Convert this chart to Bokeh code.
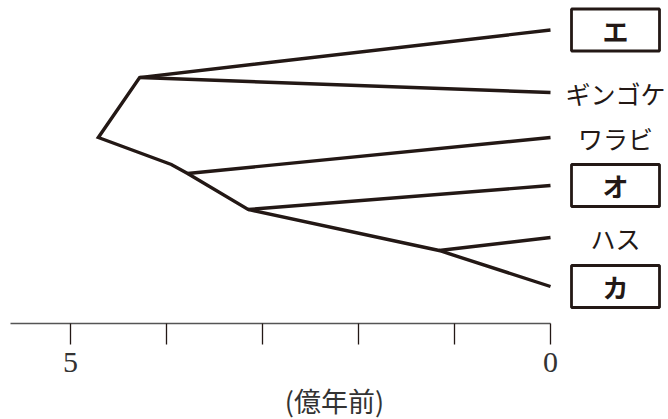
from bokeh.plotting import figure
from bokeh.models import Range1d, FixedTicker, ColumnDataSource
from bokeh.core.properties import value
from bokeh.embed import file_html
from bokeh.resources import INLINE

INK = "#231815"

# ---- data ----
tip_labels = ["エ", "ギンゴケ", "ワラビ", "オ", "ハス", "カ"]
tip_time = [0, 0, 0, 0, 0, 0]            # 億年前
tip_y = [29.5, 92, 137, 185, 237, 286]
boxed = [True, False, False, True, False, True]

node_names = ["root", "A", "B", "C", "D", "E"]
node_time = [4.71, 4.28, 3.95, 3.78, 3.15, 1.16]
node_y = [137, 77, 164, 173, 209, 250]

paths = [
    ["エ", "A", "root", "B", "C", "D", "E", "カ"],
    ["A", "ギンゴケ"],
    ["C", "ワラビ"],
    ["D", "オ"],
    ["E", "ハス"],
]

tick_values = [5, 4, 3, 2, 1, 0]
tick_labels = {5: "5", 4: "", 3: "", 2: "", 1: "", 0: "0"}
axis_title = "(億年前)"

# ---- build ----
pos = {}
for n, t, y in zip(node_names, node_time, node_y):
    pos[n] = (t, y)
for n, t, y in zip(tip_labels, tip_time, tip_y):
    pos[n] = (t, y)

xs = [[pos[n][0] for n in path] for path in paths]
ys = [[pos[n][1] for n in path] for path in paths]

PX_PER_UNIT = 96.0
FRAME_W = 668
X_START = 5 + 70 / PX_PER_UNIT
X_END = X_START - FRAME_W / PX_PER_UNIT
LABEL_OFFSET = 65 / PX_PER_UNIT

p = figure(frame_width=FRAME_W, frame_height=323,
           x_range=Range1d(X_START, X_END), y_range=Range1d(323, 0),
           output_backend="svg", toolbar_location=None,
           y_axis_location=None, x_axis_location="below",
           min_border_left=0, min_border_right=0, min_border_top=0,
           min_border_bottom=0, outline_line_color=None)
p.grid.visible = False
p.background_fill_color = "white"
p.border_fill_color = "white"

p.multi_line(xs=xs, ys=ys, line_color=INK, line_width=3.4, line_join="miter")

plain = ColumnDataSource(dict(
    x=[t - LABEL_OFFSET for t, b in zip(tip_time, boxed) if not b],
    y=[y for y, b in zip(tip_y, boxed) if not b],
    text=[l for l, b in zip(tip_labels, boxed) if not b]))
boxsrc = ColumnDataSource(dict(
    x=[t - LABEL_OFFSET for t, b in zip(tip_time, boxed) if b],
    y=[y for y, b in zip(tip_y, boxed) if b],
    text=[l for l, b in zip(tip_labels, boxed) if b]))

p.text(x="x", y="y", text="text", source=plain,
       text_font=value("Noto Sans CJK JP"), text_font_size="25px",
       text_align="center", text_baseline="middle", text_color=INK)
p.rect(x="x", y="y", width=88, height=42, width_units="screen",
       height_units="screen", source=boxsrc, fill_color=None,
       line_color=INK, line_width=2.8)
p.text(x="x", y="y", text="text", source=boxsrc,
       text_font=value("Noto Sans CJK JP"), text_font_size="26px",
       text_font_style="bold",
       text_align="center", text_baseline="middle", text_color=INK)

ax = p.xaxis[0]
ax.ticker = FixedTicker(ticks=tick_values)
ax.major_label_overrides = tick_labels
ax.bounds = (0, X_START - 9.5 / PX_PER_UNIT)
ax.major_tick_in = 0
ax.major_tick_out = 21
ax.minor_tick_in = 0
ax.minor_tick_out = 0
ax.axis_line_color = "#555555"
ax.axis_line_width = 1.6
ax.major_tick_line_color = INK
ax.major_tick_line_width = 1.3
ax.major_label_text_font = "Liberation Serif"
ax.major_label_text_font_size = "30px"
ax.major_label_text_color = "#333333"
ax.major_label_standoff = 8
ax.axis_label = axis_title
ax.axis_label_text_font = "Noto Sans CJK JP"
ax.axis_label_text_font_size = "27px"
ax.axis_label_text_font_style = "normal"
ax.axis_label_text_color = "#333333"
ax.axis_label_standoff = 6

open("out.html", "w").write(file_html(p, INLINE))
